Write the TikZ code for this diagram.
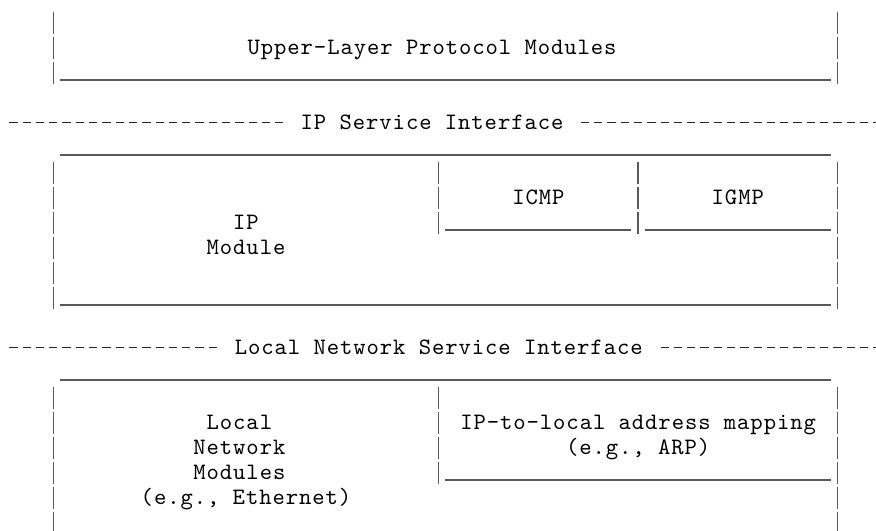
\documentclass[tikz,border=0pt]{standalone}
\usepackage{fontspec}
\usepackage{tikz}
\newfontfamily\asciimono[LetterSpace=4]{lmmono10-regular.otf}

\begin{document}
\begin{tikzpicture}[x=13.29pt,y=-25pt]
  \tikzset{
    bar/.style={draw=black!65,line width=1.3pt},
    rule/.style={draw=black!65,line width=1.2pt},
    hyph/.style={draw=black!85,line width=1.4pt,dash pattern=on 8.3pt off 4.99pt},
    lbl/.style={font=\asciimono\fontsize{23.5}{25}\selectfont,inner sep=0pt,anchor=base}
  }
  \useasboundingbox (-1.0105,-0.468) rectangle (64.90,20.732);

  \foreach \r in {0,1,2} \draw[bar] (3,\r) -- ++(0,0.88) (62,\r) -- ++(0,0.88);
  \draw[rule] (3.5,2.73) -- (61.5,2.73);
  \node[lbl] (upper) at (31.5,1.73) {Upper-Layer Protocol Modules};

  \draw[hyph] (-0.31,4.425) -- (20.31,4.425) (42.69,4.425) -- (66,4.425);
  \node[lbl] (ipsi) at (31.5,4.73) {IP Service Interface};

  \draw[rule] (3.5,5.73) -- (61.5,5.73);
  \foreach \r in {6,...,11} \draw[bar] (3,\r) -- ++(0,0.88) (62,\r) -- ++(0,0.88);
  \foreach \r in {6,7,8} \draw[bar] (32,\r) -- ++(0,0.88) (47,\r) -- ++(0,0.88);
  \draw[rule] (32.5,8.73) -- (46.5,8.73) (47.5,8.73) -- (61.5,8.73);
  \draw[rule] (3.5,11.73) -- (61.5,11.73);
  \node[lbl] (icmp) at (39.5,7.73) {ICMP};
  \node[lbl] (igmp) at (54.5,7.73) {IGMP};
  \node[lbl] (ip) at (17.5,8.73) {IP};
  \node[lbl] (ipmod) at (17.5,9.73) {Module};

  \draw[hyph] (-0.31,13.425) -- (15.31,13.425) (48.69,13.425) -- (66,13.425);
  \node[lbl] (lnsi) at (32,13.73) {Local Network Service Interface};

  \draw[rule] (3.5,14.73) -- (61.5,14.73);
  \foreach \r in {15,...,20} \draw[bar] (3,\r) -- ++(0,0.88) (62,\r) -- ++(0,0.88);
  \foreach \r in {15,...,18} \draw[bar] (32,\r) -- ++(0,0.88);
  \draw[rule] (32.5,18.73) -- (61.5,18.73);
  \node[lbl] (lnm1) at (17,16.73) {Local};
  \node[lbl] (lnm2) at (17,17.73) {Network};
  \node[lbl] (lnm3) at (17,18.73) {Modules};
  \node[lbl] (lnm4) at (17.5,19.73) {(e.g., Ethernet)};
  \node[lbl] (arp1) at (47,16.73) {IP-to-local address mapping};
  \node[lbl] (arp2) at (47,17.73) {(e.g., ARP)};
\end{tikzpicture}
\end{document}
